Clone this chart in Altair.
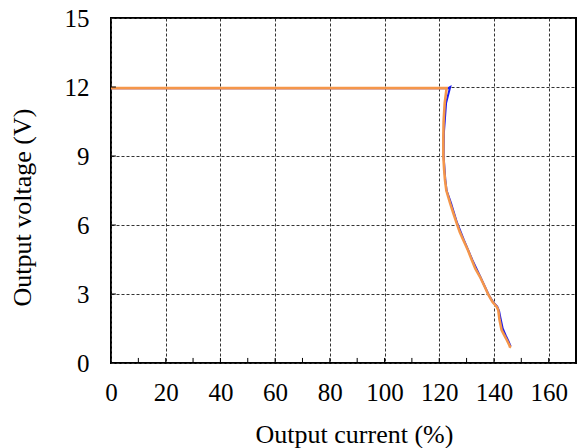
import altair as alt
import pandas as pd

# Series: blue (measured) and orange (measured) curves
blue_x = [0, 40, 80, 123.3, 124.0, 122.5, 121.7, 121.6, 122.2, 122.7, 124.3, 126.5, 129.0, 132.1, 135.0, 138.1, 139.7, 141.2, 141.9, 142.4, 143.2, 144.3, 145.3, 146.1]
blue_y = [11.95, 11.95, 11.95, 11.95, 12.0, 11.3, 10.0, 9.0, 8.0, 7.5, 6.95, 6.1, 5.35, 4.48, 3.75, 2.96, 2.65, 2.45, 2.25, 1.95, 1.5, 1.2, 0.95, 0.72]

orange_x = [0, 40, 80, 122.7, 122.0, 121.6, 121.5, 121.5, 121.8, 122.1, 122.6, 124.0, 125.2, 126.4, 127.5, 128.8, 130.5, 131.9, 133.2, 134.9, 136.5, 138.0, 139.5, 141.0, 141.6, 142.0, 142.8, 143.8, 144.7, 145.9, 145.6]
orange_y = [11.95, 11.95, 11.95, 11.95, 11.3, 10.5, 9.8, 9.0, 8.4, 7.96, 7.5, 6.94, 6.5, 6.07, 5.7, 5.35, 4.9, 4.48, 4.1, 3.75, 3.35, 2.96, 2.65, 2.45, 2.3, 1.9, 1.43, 1.2, 1.0, 0.71, 0.66]

x_ticks = [0, 10, 20, 30, 40, 50, 60, 70, 80, 90, 100, 110, 120, 130, 140, 150, 160, 170]
y_ticks = [0, 3, 6, 9, 12, 15]

blue = pd.DataFrame({"x": blue_x, "y": blue_y, "i": range(len(blue_x))})
orange = pd.DataFrame({"x": orange_x, "y": orange_y, "i": range(len(orange_x))})
xt = pd.DataFrame({"t": x_ticks[1:-1]})
yt = pd.DataFrame({"t": y_ticks[1:-1]})

FONT = "'Liberation Serif', 'Times New Roman', 'DejaVu Serif', serif"

xscale = alt.Scale(domain=[0, 170], nice=False, zero=False)
yscale = alt.Scale(domain=[0, 15], nice=False, zero=False)

xaxis = alt.Axis(
    values=x_ticks,
    labelExpr="datum.value % 20 == 0 && datum.value <= 160 ? datum.label : ''",
    title="Output current (%)",
    grid=True, gridColor="#333333", gridDash=[3, 2], gridWidth=1,
    ticks=False, domain=False,
    labelFont=FONT, labelFontSize=25, labelColor="black", labelPadding=17,
    labelFlush=False, labelOverlap=False,
    titleFont=FONT, titleFontSize=26, titleFontWeight="normal", titleColor="black",
    titleX=243, titleY=71, titleAlign="center", titleBaseline="middle",
)
yaxis = alt.Axis(
    values=y_ticks,
    title="Output voltage (V)",
    grid=True, gridColor="#333333", gridDash=[3, 2], gridWidth=1,
    ticks=False, domain=False,
    labelFont=FONT, labelFontSize=25, labelColor="black", labelPadding=22,
    labelFlush=False, labelOverlap=False,
    titleFont=FONT, titleFontSize=26, titleFontWeight="normal", titleColor="black",
    titleX=-89, titleY=189, titleAlign="center", titleBaseline="middle", titleAngle=270,
)

base_blue = alt.Chart(blue).mark_line(color="#1a1aee", strokeWidth=2).encode(
    x=alt.X("x:Q", scale=xscale, axis=xaxis),
    y=alt.Y("y:Q", scale=yscale, axis=yaxis),
    order="i:Q",
)
line_orange = alt.Chart(orange).mark_line(color="#F5964A", strokeWidth=2.6).encode(
    x=alt.X("x:Q", scale=xscale),
    y=alt.Y("y:Q", scale=yscale),
    order="i:Q",
)
xticks_m = alt.Chart(xt).mark_rule(color="black", strokeWidth=1).encode(
    x=alt.X("t:Q", scale=xscale),
    y=alt.datum(0, scale=yscale),
    y2=alt.datum(0.22),
)
yticks_m = alt.Chart(yt).mark_rule(color="black", strokeWidth=1).encode(
    y=alt.Y("t:Q", scale=yscale),
    x=alt.datum(0, scale=xscale),
    x2=alt.datum(1.8),
)

chart = alt.layer(base_blue, line_orange, xticks_m, yticks_m).properties(
    width=465, height=345,
    autosize=alt.AutoSizeParams(type="none"),
    padding={"left": 111, "top": 18, "right": 1, "bottom": 85},
    background="white",
).configure_view(stroke="black", strokeWidth=2)

chart.save("out.html", embed_options={"renderer": "svg", "actions": False})
